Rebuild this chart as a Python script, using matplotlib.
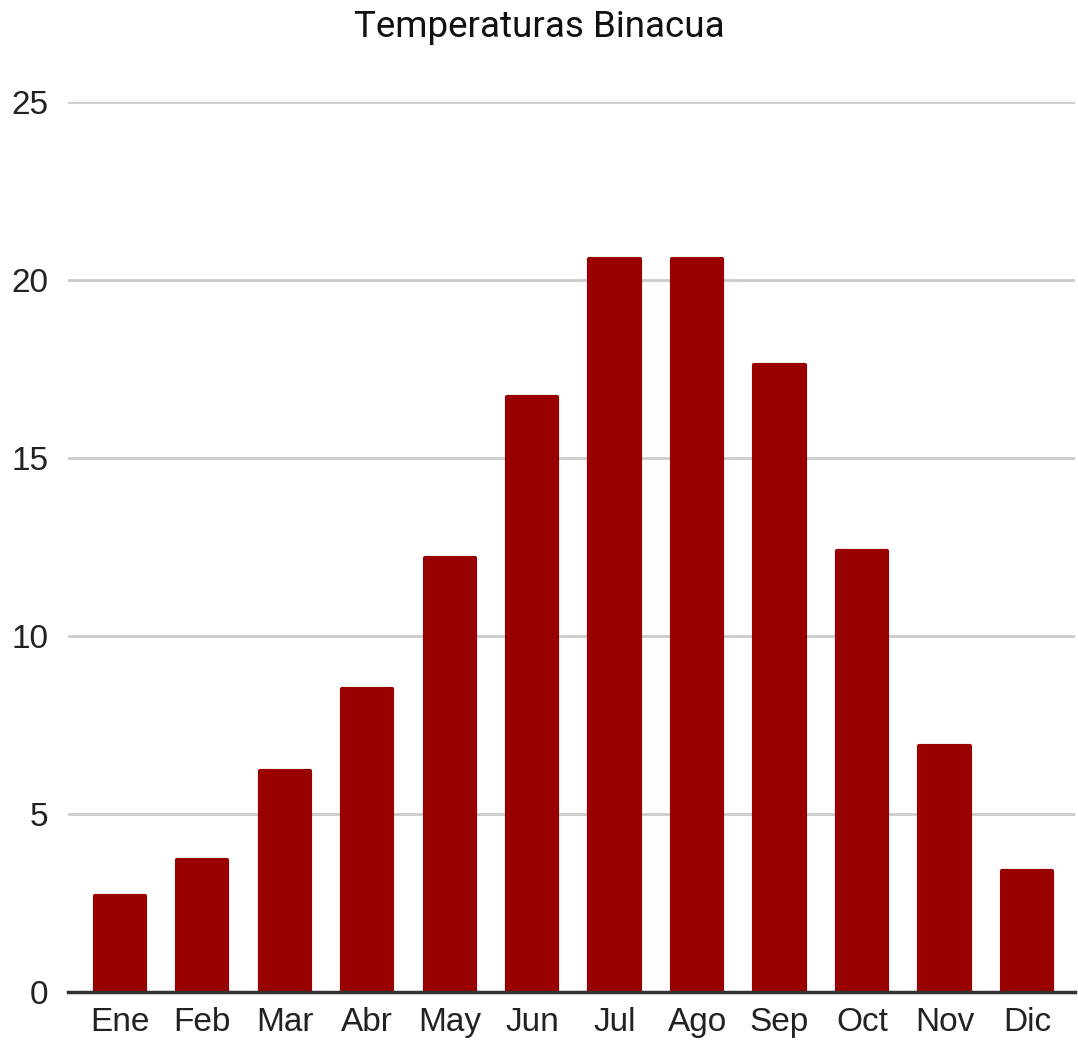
import matplotlib
matplotlib.use('Agg')
import matplotlib.pyplot as plt

meses = ['Ene', 'Feb', 'Mar', 'Abr', 'May', 'Jun', 'Jul', 'Ago', 'Sep', 'Oct', 'Nov', 'Dic']
temperaturas = [2.7, 3.7, 6.2, 8.5, 12.2, 16.7, 20.6, 20.6, 17.6, 12.4, 6.9, 3.4]
yticks = [0, 5, 10, 15, 20, 25]

fig = plt.figure(figsize=(10.78, 10.44), dpi=100)
ax = fig.add_axes([0.063, 0.0498, 0.934, 0.8525])

x = range(len(meses))
# edge with round joins gives the slightly rounded corners
ax.bar(x, temperaturas, width=0.61, color='#990000', edgecolor='#990000',
       linewidth=3, joinstyle='round', zorder=3)

ax.set_xlim(-0.63, 11.58)
ax.set_ylim(0, 25)
ax.set_yticks(yticks)
ax.set_xticks(list(x))
ax.set_xticklabels(meses)
ax.yaxis.grid(True, color='#cccccc', linewidth=2, zorder=0)
for s in ['top', 'right', 'left']:
    ax.spines[s].set_visible(False)
ax.spines['bottom'].set_color('#333333')
ax.spines['bottom'].set_linewidth(2.5)
ax.spines['bottom'].set_zorder(4)
ax.tick_params(axis='both', length=0, labelsize=24, labelcolor='#222222')
ax.tick_params(axis='x', pad=11)
ax.tick_params(axis='y', pad=14)
for lab in ax.get_xticklabels() + ax.get_yticklabels():
    lab.set_fontfamily('Liberation Sans')

fig.text(0.5, 0.974, 'Temperaturas Binacua', ha='center', va='center',
         fontsize=26.5, family='Roboto', color='#111111')

fig.savefig('out.png', dpi=100)
